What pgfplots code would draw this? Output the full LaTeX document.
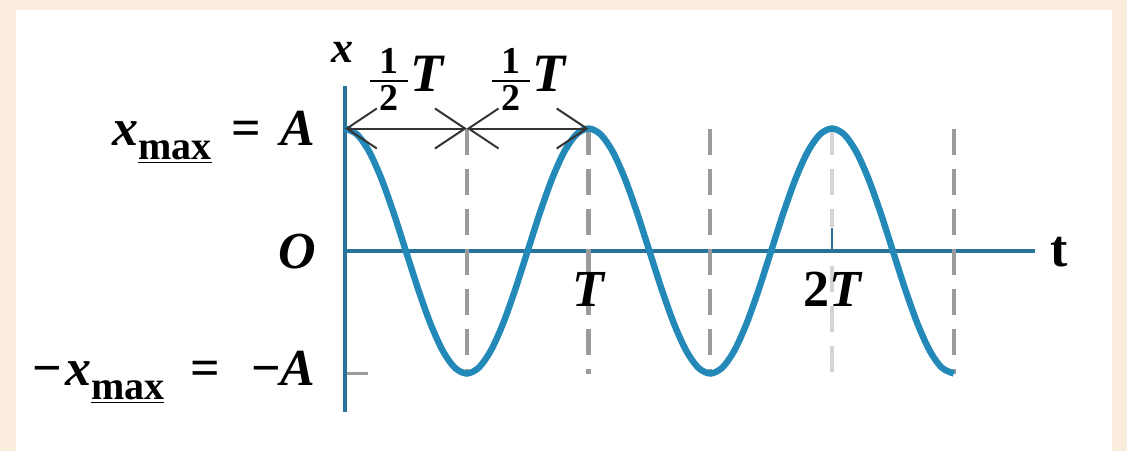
\documentclass[border=0pt]{standalone}
\usepackage{fontspec}
\setmainfont{Liberation Serif}
\usepackage{pgfplots}
\pgfplotsset{compat=1.18}
\usetikzlibrary{arrows.meta}
\definecolor{bgbeige}{HTML}{FAECDC}
\definecolor{curveblue}{HTML}{2389B8}
\definecolor{axisteal}{HTML}{28739A}
\definecolor{dashgray}{HTML}{9B9B9B}
\definecolor{dashlight}{HTML}{D4D4D4}
\definecolor{arrowgray}{HTML}{333333}
\newcommand{\lbl}{\fontsize{26}{30}\selectfont\bfseries}
\newcommand{\xmax}{{\itshape x}\raisebox{-0.28em}{\fontsize{20}{21}\selectfont\underline{max}}}
\newcommand{\half}{\raisebox{-1pt}{${\hbox to 19pt{\hss\fontsize{19}{19}\selectfont\bfseries 1\hss}\above1pt\hbox to 19pt{\hss\fontsize{19}{19}\selectfont\bfseries 2\hss}}$}}
\begin{document}
\begin{tikzpicture}
\fill[bgbeige] (0,0) rectangle (563.5pt,225.5pt);
\fill[white] (8pt,0) rectangle (556pt,220.5pt);
\begin{axis}[
  at={(172.5pt,100pt)}, anchor=origin,
  x=121.75pt, y=61.25pt,
  xmin=0, xmax=2.834, ymin=-1.314, ymax=1.347,
  enlargelimits=false,
  axis lines=middle,
  axis line style={axisteal, line width=1.6pt, -},
  xtick={2}, ytick={-1},
  xticklabels={}, yticklabels={},
  tick align=inside,
  major tick length=11.5pt,
  x tick style={axisteal, line width=1.4pt},
  y tick style={dashgray, line width=1.5pt},
  clip=false,
]
\addplot[dashgray, line width=2.2pt, dash pattern=on 13pt off 7pt] coordinates {(0.5,1) (0.5,-1)};
\addplot[dashgray, line width=2.2pt, dash pattern=on 13pt off 7pt] coordinates {(1,1) (1,-1)};
\addplot[dashgray, line width=2.2pt, dash pattern=on 13pt off 7pt] coordinates {(1.5,1) (1.5,-1)};
\addplot[dashlight, line width=2.2pt, dash pattern=on 13pt off 7pt] coordinates {(2,1) (2,0.2)};
\addplot[dashlight, line width=2.2pt, dash pattern=on 13pt off 7pt] coordinates {(2,-0.12) (2,-1)};
\addplot[dashgray, line width=2.2pt, dash pattern=on 13pt off 7pt] coordinates {(2.5,1) (2.5,-1)};
\addplot[curveblue, line width=3.2pt, smooth] table {
x y
0 1
0.05 0.95106
0.10 0.80902
0.15 0.58779
0.20 0.30902
0.25 0
0.30 -0.30902
0.35 -0.58779
0.40 -0.80902
0.45 -0.95106
0.50 -1
0.55 -0.95106
0.60 -0.80902
0.65 -0.58779
0.70 -0.30902
0.75 0
0.80 0.30902
0.85 0.58779
0.90 0.80902
0.95 0.95106
1.00 1
1.05 0.95106
1.10 0.80902
1.15 0.58779
1.20 0.30902
1.25 0
1.30 -0.30902
1.35 -0.58779
1.40 -0.80902
1.45 -0.95106
1.50 -1
1.55 -0.95106
1.60 -0.80902
1.65 -0.58779
1.70 -0.30902
1.75 0
1.80 0.30902
1.85 0.58779
1.90 0.80902
1.95 0.95106
2.00 1
2.05 0.95106
2.10 0.80902
2.15 0.58779
2.20 0.30902
2.25 0
2.30 -0.30902
2.35 -0.58779
2.40 -0.80902
2.45 -0.95106
2.50 -1
};
\draw[arrowgray, line width=1pt, {Straight Barb[length=15pt,width=20pt]}-{Straight Barb[length=15pt,width=20pt]}] (axis cs:0,1) -- (axis cs:0.5,1);
\draw[arrowgray, line width=1pt, {Straight Barb[length=15pt,width=20pt]}-{Straight Barb[length=15pt,width=20pt]}] (axis cs:0.5,1) -- (axis cs:1,1);
\node[font=\lbl, inner sep=0] at (axis cs:0.25,1.40) {\half\fontsize{27}{30}\selectfont\itshape T};
\node[font=\lbl, inner sep=0] at (axis cs:0.75,1.40) {\half\fontsize{27}{30}\selectfont\itshape T};
\node[font=\lbl, inner sep=0] at (axis cs:-0.01,1.62) {\fontsize{22}{24}\selectfont\itshape x};
\node[font=\lbl, inner sep=0] at (axis cs:2.932,-0.01) {t};
\node[font=\lbl, inner sep=0] at (axis cs:1,-0.31) {\itshape T};
\node[font=\lbl, inner sep=0] at (axis cs:2,-0.31) {2\itshape T};
\node[font=\lbl, inner sep=0, anchor=base east] at (axis cs:-0.119,0.865) {\xmax\hspace{0.38em}=\hspace{0.38em}{\itshape A}};
\node[font=\lbl, inner sep=0, anchor=base east] at (axis cs:-0.119,-0.139) {\itshape O};
\node[font=\lbl, inner sep=0, anchor=base east] at (axis cs:-0.119,-1.094) {−\hspace{0.05em}\xmax\hspace{0.5em}=\hspace{0.6em}−{\itshape A}};
\end{axis}
\pgfresetboundingbox
\useasboundingbox (0,0) rectangle (563.5pt,225.5pt);
\end{tikzpicture}
\end{document}
